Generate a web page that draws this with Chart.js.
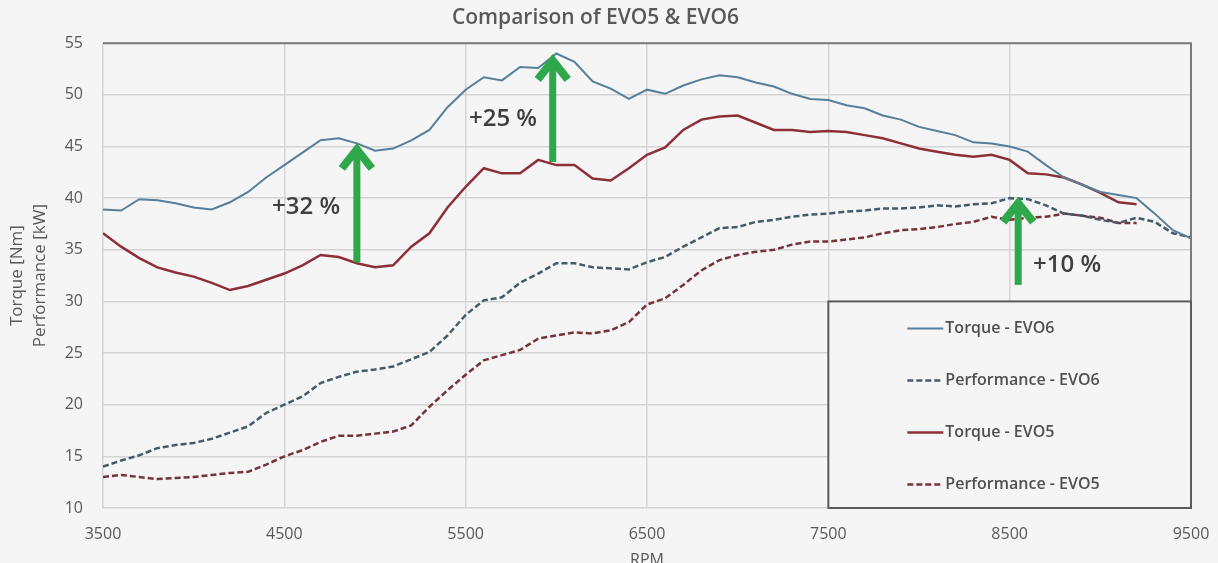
<!DOCTYPE html>
<html>
<head>
<meta charset="utf-8">
<script src="https://cdn.jsdelivr.net/npm/chart.js@4/dist/chart.umd.min.js"></script>
<style>
  html, body { margin: 0; padding: 0; background: #f5f5f5; }
  #wrap { width: 1218px; height: 563px; }
</style>
</head>
<body>
<div id="wrap"><canvas id="evoChart" width="1218" height="563"></canvas></div>
<script>
// RPM steps (every 100 rpm)
const rpm = [];
for (let r = 3500; r <= 9500; r += 100) rpm.push(r);

const torqueEvo6 = [
  38.9, 38.8, 39.9, 39.8, 39.5, 39.1, 38.9, 39.6, 40.6, 42.0,
  43.2, 44.4, 45.6, 45.8, 45.3, 44.6, 44.8, 45.6, 46.6, 48.8,
  50.5, 51.7, 51.4, 52.7, 52.6, 54.0, 53.2, 51.3, 50.6, 49.6,
  50.5, 50.1, 50.9, 51.5, 51.9, 51.7, 51.2, 50.8, 50.1, 49.6,
  49.5, 49.0, 48.7, 48.0, 47.6, 46.9, 46.5, 46.1, 45.4, 45.3,
  45.0, 44.5, 43.2, 42.0, 41.3, 40.6, 40.3, 40.0, 38.5, 36.9, 36.1
];
const perfEvo6 = [
  14.0, 14.6, 15.1, 15.8, 16.1, 16.3, 16.7, 17.3, 17.9, 19.2,
  20.0, 20.8, 22.1, 22.7, 23.2, 23.4, 23.7, 24.4, 25.1, 26.7,
  28.7, 30.1, 30.4, 31.8, 32.7, 33.7, 33.7, 33.3, 33.2, 33.1,
  33.8, 34.3, 35.3, 36.2, 37.1, 37.2, 37.7, 37.9, 38.2, 38.4,
  38.5, 38.7, 38.8, 39.0, 39.0, 39.1, 39.3, 39.2, 39.4, 39.5,
  40.0, 39.9, 39.3, 38.5, 38.3, 37.9, 37.6, 38.1, 37.7, 36.6, 36.2
];
const torqueEvo5 = [
  36.6, 35.3, 34.2, 33.3, 32.8, 32.4, 31.8, 31.1, 31.5, 32.1,
  32.7, 33.5, 34.5, 34.3, 33.7, 33.3, 33.5, 35.3, 36.6, 39.1,
  41.1, 42.9, 42.4, 42.4, 43.7, 43.2, 43.2, 41.9, 41.7, 42.9,
  44.2, 44.9, 46.6, 47.6, 47.9, 48.0, 47.3, 46.6, 46.6, 46.4,
  46.5, 46.4, 46.1, 45.8, 45.3, 44.8, 44.5, 44.2, 44.0, 44.2,
  43.7, 42.4, 42.3, 42.0, 41.3, 40.5, 39.6, 39.4, null, null, null
];
const perfEvo5 = [
  13.0, 13.2, 13.0, 12.8, 12.9, 13.0, 13.2, 13.4, 13.5, 14.2,
  15.0, 15.6, 16.4, 17.0, 17.0, 17.2, 17.4, 18.0, 19.8, 21.4,
  22.9, 24.3, 24.8, 25.3, 26.4, 26.7, 27.0, 26.9, 27.2, 28.0,
  29.7, 30.3, 31.6, 33.0, 34.0, 34.5, 34.8, 35.0, 35.5, 35.8,
  35.8, 36.0, 36.2, 36.6, 36.9, 37.0, 37.2, 37.5, 37.7, 38.2,
  37.9, 38.1, 38.2, 38.5, 38.3, 38.1, 37.6, 37.6, null, null, null
];

const xTicks = [3500, 4500, 5500, 6500, 7500, 8500, 9500];

// green arrows: rpm, from, to, label, label position
const arrowRpm = [4900, 5980, 8547];
const arrowFrom = [33.8, 43.5, 31.6];
const arrowTo = [45.3, 53.9, 40.1];
const arrowText = ['+32 %', '+25 %', '+10 %'];
const arrowTextRpm = [4620, 5706, 8817];
const arrowTextVal = [39.1, 47.6, 33.5];

const FONT = '"Open Sans", "DejaVu Sans", sans-serif';
const pts = arr => rpm.map((r, i) => ({ x: r, y: arr[i] }));

const frameAndExtras = {
  id: 'frameAndExtras',
  beforeDraw(chart) {
    const ctx = chart.ctx;
    ctx.save();
    ctx.fillStyle = '#f5f5f5';
    ctx.fillRect(0, 0, chart.width, chart.height);
    ctx.restore();
  },
  afterDatasetsDraw(chart) {
    const { ctx, chartArea: a, scales: { x, y } } = chart;
    ctx.save();
    // dark frame top and right
    ctx.strokeStyle = '#7a7a7a';
    ctx.lineWidth = 2;
    ctx.beginPath();
    ctx.moveTo(a.left, a.top);
    ctx.lineTo(a.right, a.top);
    ctx.lineTo(a.right, a.bottom);
    ctx.stroke();

    // legend box
    const lx = x.getPixelForValue(7500);
    const ly = y.getPixelForValue(30);
    ctx.fillStyle = '#f5f5f5';
    ctx.fillRect(lx, ly, a.right - lx, a.bottom - ly);
    ctx.strokeStyle = '#5a5a5a';
    ctx.lineWidth = 2;
    ctx.strokeRect(lx, ly, a.right - lx, a.bottom - ly);
    ctx.font = '600 16px ' + FONT;
    ctx.textBaseline = 'middle';
    ctx.textAlign = 'left';
    chart.data.datasets.forEach((ds, i) => {
      const ry = ly + 27 + i * 52;
      ctx.strokeStyle = ds.borderColor;
      ctx.lineWidth = ds.borderWidth;
      ctx.setLineDash(ds.borderDash || []);
      ctx.beginPath();
      ctx.moveTo(lx + 79, ry);
      ctx.lineTo(lx + 115, ry);
      ctx.stroke();
      ctx.setLineDash([]);
      ctx.fillStyle = '#505050';
      ctx.fillText(ds.label, lx + 117, ry);
    });

    // arrows
    ctx.fillStyle = '#2ea84a';
    ctx.strokeStyle = '#2ea84a';
    arrowRpm.forEach((r, i) => {
      const px = x.getPixelForValue(r);
      const yb = y.getPixelForValue(arrowFrom[i]);
      const yt = y.getPixelForValue(arrowTo[i]);
      ctx.lineWidth = 7;
      ctx.beginPath();
      ctx.moveTo(px, yb);
      ctx.lineTo(px, yt + 8);
      ctx.stroke();
      ctx.lineWidth = 8;
      ctx.lineJoin = 'miter';
      ctx.beginPath();
      ctx.moveTo(px - 15, yt + 25);
      ctx.lineTo(px, yt + 6);
      ctx.lineTo(px + 15, yt + 25);
      ctx.stroke();
    });
    ctx.fillStyle = '#3f3f3f';
    ctx.font = '600 24px ' + FONT;
    ctx.textAlign = 'center';
    arrowText.forEach((t, i) => {
      ctx.fillText(t, x.getPixelForValue(arrowTextRpm[i]), y.getPixelForValue(arrowTextVal[i]));
    });
    ctx.restore();
  }
};

new Chart(document.getElementById('evoChart'), {
  type: 'line',
  data: {
    datasets: [
      { label: 'Torque - EVO6', data: pts(torqueEvo6), borderColor: '#557f9b', borderWidth: 2 },
      { label: 'Performance - EVO6', data: pts(perfEvo6), borderColor: '#435c6b', borderWidth: 2.5, borderDash: [6, 3] },
      { label: 'Torque - EVO5', data: pts(torqueEvo5), borderColor: '#8e2f38', borderWidth: 2.5 },
      { label: 'Performance - EVO5', data: pts(perfEvo5), borderColor: '#763338', borderWidth: 2.5, borderDash: [6, 3] }
    ]
  },
  options: {
    responsive: false,
    animation: false,
    events: [],
    elements: { point: { radius: 0 }, line: { tension: 0 } },
    layout: { padding: { left: 0, right: 27, top: 0, bottom: 0 } },
    plugins: {
      legend: { display: false },
      tooltip: { enabled: false },
      title: {
        display: true,
        text: 'Comparison of EVO5 & EVO6',
        color: '#595959',
        font: { family: FONT, size: 21, weight: '600' },
        padding: { top: 5, bottom: 13 }
      }
    },
    scales: {
      x: {
        type: 'linear',
        min: 3500, max: 9500,
        afterBuildTicks: s => { s.ticks = xTicks.map(v => ({ value: v })); },
        afterFit: s => { s.height = 55; s.paddingLeft = 0; s.paddingRight = 0; },
        grid: { color: '#d4d4d4', lineWidth: 1.5, drawTicks: false },
        border: { display: false },
        ticks: { color: '#595959', font: { family: FONT, size: 16 }, padding: 17, maxRotation: 0, callback: v => String(v) },
        title: { display: true, text: 'RPM', color: '#595959', font: { family: FONT, size: 16 }, padding: { top: 0, bottom: -7 } }
      },
      y: {
        min: 10, max: 55,
        ticks: { stepSize: 5, color: '#595959', font: { family: FONT, size: 16 }, padding: 20 },
        afterFit: s => { s.width = 103; s.paddingTop = 0; s.paddingBottom = 0; },
        grid: { color: '#d4d4d4', lineWidth: 1.5, drawTicks: false },
        border: { display: false },
        title: {
          display: true,
          text: ['Torque [Nm]', 'Performance [kW]'],
          color: '#595959',
          font: { family: FONT, size: 17, lineHeight: 1.35 },
          padding: { top: 6, bottom: 0 }
        }
      }
    }
  },
  plugins: [frameAndExtras]
});
</script>
</body>
</html>
